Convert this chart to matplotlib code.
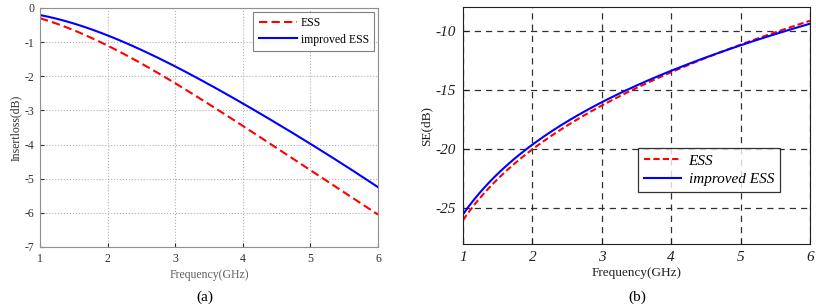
import matplotlib
matplotlib.use("Agg")
import matplotlib.pyplot as plt
import numpy as np

plt.rcParams['font.family'] = ['Liberation Serif', 'DejaVu Serif']
plt.rcParams['axes.unicode_minus'] = False

# Panel (a): insertion loss
freq_a = [1, 1.5, 2, 2.5, 3, 3.5, 4, 4.5, 5, 5.5, 6]
ess_a = [-0.3, -0.65, -1.1, -1.63, -2.2, -2.82, -3.45, -4.1, -4.75, -5.4, -6.05]
imp_a = [-0.2, -0.47, -0.8, -1.22, -1.7, -2.25, -2.8, -3.38, -3.97, -4.6, -5.25]

# Panel (b): shielding effectiveness
freq_b = [1, 1.25, 1.5, 2, 2.5, 3, 3.5, 4, 4.5, 5, 5.5, 6]
ess_b = [-26.0, -24.0, -22.6, -20.0, -18.0, -16.3, -14.8, -13.5, -12.3, -11.2, -10.2, -9.1]
imp_b = [-25.5, -23.6, -22.1, -19.6, -17.7, -16.0, -14.6, -13.4, -12.3, -11.2, -10.3, -9.4]

labels = ["ESS", "improved ESS"]

fig = plt.figure(figsize=(8.16, 3.08), dpi=100)

# ---- left ----
axa = fig.add_axes([40/816, 1-247/308, 338/816, 239/308])
xs = np.linspace(1, 6, 200)
c = np.polyfit(freq_a, ess_a, 4)
axa.plot(xs, np.polyval(c, xs), '--', color='red', lw=1.5, label=labels[0], dashes=(4, 2))
c = np.polyfit(freq_a, imp_a, 4)
axa.plot(xs, np.polyval(c, xs), '-', color='blue', lw=1.5, label=labels[1])
axa.set_xlim(1, 6)
axa.set_ylim(-7, 0)
axa.set_xticks([1, 2, 3, 4, 5, 6])
axa.set_yticks(range(-7, 1))
axa.grid(True, color='#b0b0b0', linestyle=':', lw=0.8)
for s in axa.spines.values():
    s.set_color('#909090')
axa.tick_params(direction='in', colors='#303030', labelsize=8.5, length=3, pad=4)
axa.set_xlabel('Frequency(GHz)', fontsize=8.5, color='#606060', labelpad=3)
axa.set_ylabel('Insertloss(dB)', fontsize=8.5, color='#303030', labelpad=2)
leg = axa.legend(loc='upper right', fontsize=8.5, frameon=True, fancybox=False,
                 edgecolor='#606060', handlelength=3.3, borderaxespad=0.3,
                 labelspacing=0.4, handletextpad=0.3, borderpad=0.45)
leg.get_frame().set_linewidth(0.8)
fig.text(205/816, 1-297/308, '(a)', fontsize=11, ha='center', va='center')

# ---- right ----
axb = fig.add_axes([463/816, 1-244/308, 347/816, 237/308])
c = np.polyfit(np.log(freq_b), ess_b, 3)
axb.plot(xs, np.polyval(c, np.log(xs)), '--', color='red', lw=1.5, label=labels[0], dashes=(3, 1.5))
c = np.polyfit(np.log(freq_b), imp_b, 3)
axb.plot(xs, np.polyval(c, np.log(xs)), '-', color='blue', lw=1.5, label=labels[1])
axb.set_xlim(1, 6)
axb.set_ylim(-28, -8)
axb.set_xticks([1, 2, 3, 4, 5, 6])
axb.set_yticks([-25, -20, -15, -10])
axb.grid(True, color='#303030', linestyle=(0, (5, 4)), lw=0.9)
for s in axb.spines.values():
    s.set_color('#202020')
axb.tick_params(direction='in', colors='#202020', labelsize=11, length=4, pad=5)
for t in axb.get_xticklabels() + axb.get_yticklabels():
    t.set_fontstyle('italic')
axb.set_xlabel('Frequency(GHz)', fontsize=9.5, color='#202020', labelpad=2)
axb.set_ylabel('SE(dB)', fontsize=9.5, color='#202020', labelpad=2)
leg = axb.legend(loc='center right', bbox_to_anchor=(0.914, 0.312), borderaxespad=0,
                 frameon=True, fancybox=False, edgecolor='black', handlelength=2.4,
                 labelspacing=0.3, handletextpad=0.5, borderpad=0.4,
                 prop={'style': 'italic', 'size': 11})
leg.get_frame().set_linewidth(0.9)
fig.text(637/816, 1-297/308, '(b)', fontsize=11, ha='center', va='center')

fig.savefig('out.png', dpi=100)
